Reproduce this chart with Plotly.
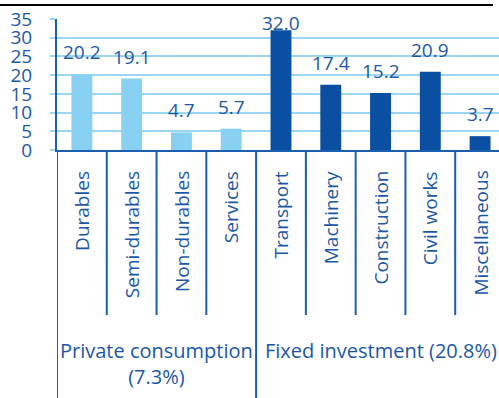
import plotly.graph_objects as go

categories = ["Durables", "Semi-durables", "Non-durables", "Services",
              "Transport", "Machinery", "Construction", "Civil works", "Miscellaneous"]
values = [20.2, 19.1, 4.7, 5.7, 32.0, 17.4, 15.2, 20.9, 3.7]
groups = ["Private consumption", "Private consumption", "Private consumption", "Private consumption",
          "Fixed investment", "Fixed investment", "Fixed investment", "Fixed investment", "Fixed investment"]
group_labels = {"Private consumption": "Private consumption<br>(7.3%)",
                "Fixed investment": "Fixed investment (20.8%)"}
y_ticks = [0, 5, 10, 15, 20, 25, 30, 35]

LIGHT = "#89d1f3"
DARK = "#0b4fa3"
TEXT = "#1b58a8"
GRID = "#9bd6f2"
FONT = "Open Sans"

colors = [LIGHT if g == "Private consumption" else DARK for g in groups]
xs = list(range(len(categories)))

fig = go.Figure()
fig.add_trace(go.Bar(x=xs, y=values, marker=dict(color=colors, line=dict(width=0)),
                     width=0.42, showlegend=False, hoverinfo="skip"))

annotations = []
# value labels
for i, v in enumerate(values):
    shift = -8 if v >= 30 else 7
    annotations.append(dict(x=i, y=v, xref="x", yref="y", text=f"{v:.1f}", showarrow=False,
                            yanchor="bottom", yshift=shift,
                            font=dict(family=FONT, size=19, color=TEXT)))
# category labels (rotated)
for i, c in enumerate(categories):
    annotations.append(dict(x=i, y=0, xref="x", yref="y", text=c, showarrow=False,
                            textangle=-90, yanchor="top", yshift=-19,
                            font=dict(family=FONT, size=19, color=TEXT)))
# group labels
uniq = []
for g in groups:
    if g not in uniq:
        uniq.append(g)
for g in uniq:
    idx = [i for i, gg in enumerate(groups) if gg == g]
    cx = (idx[0] + idx[-1]) / 2
    annotations.append(dict(x=cx, y=-1.41, xref="x", yref="paper", text=group_labels[g],
                            showarrow=False, yanchor="top",
                            font=dict(family=FONT, size=20, color=TEXT)))

shapes = []
# separators between categories
for i in range(len(categories)):
    x0 = i - 0.5
    is_group_start = (i == 0) or (groups[i] != groups[i - 1])
    shapes.append(dict(type="line", xref="x", yref="paper", x0=x0, x1=x0,
                       y0=0, y1=-1.9 if is_group_start else -1.26,
                       line=dict(color="#1b5fb0", width=2), layer="above"))
# top rule
shapes.append(dict(type="line", xref="paper", yref="paper", x0=-57/442, x1=436/442,
                   y0=1 + 14/131, y1=1 + 14/131, line=dict(color="black", width=2)))

fig.update_layout(
    width=499, height=398,
    margin=dict(l=57, r=0, t=19, b=248),
    plot_bgcolor="white", paper_bgcolor="white",
    bargap=0.5,
    annotations=annotations, shapes=shapes,
    xaxis=dict(range=[-0.5, 8.38], showticklabels=False, showgrid=False, zeroline=False,
               showline=True, linecolor="#1b5fb0", linewidth=2, ticks=""),
    yaxis=dict(range=[0, 35], tickvals=y_ticks, showgrid=True, gridcolor=GRID, gridwidth=2,
               zeroline=False, showline=True, linecolor="#1b5fb0", linewidth=2,
               ticks="outside", ticklen=5, tickcolor=GRID, tickwidth=2,
               tickfont=dict(family=FONT, size=19, color=TEXT), ticklabelstandoff=14),
)

fig.write_html("out.html")
